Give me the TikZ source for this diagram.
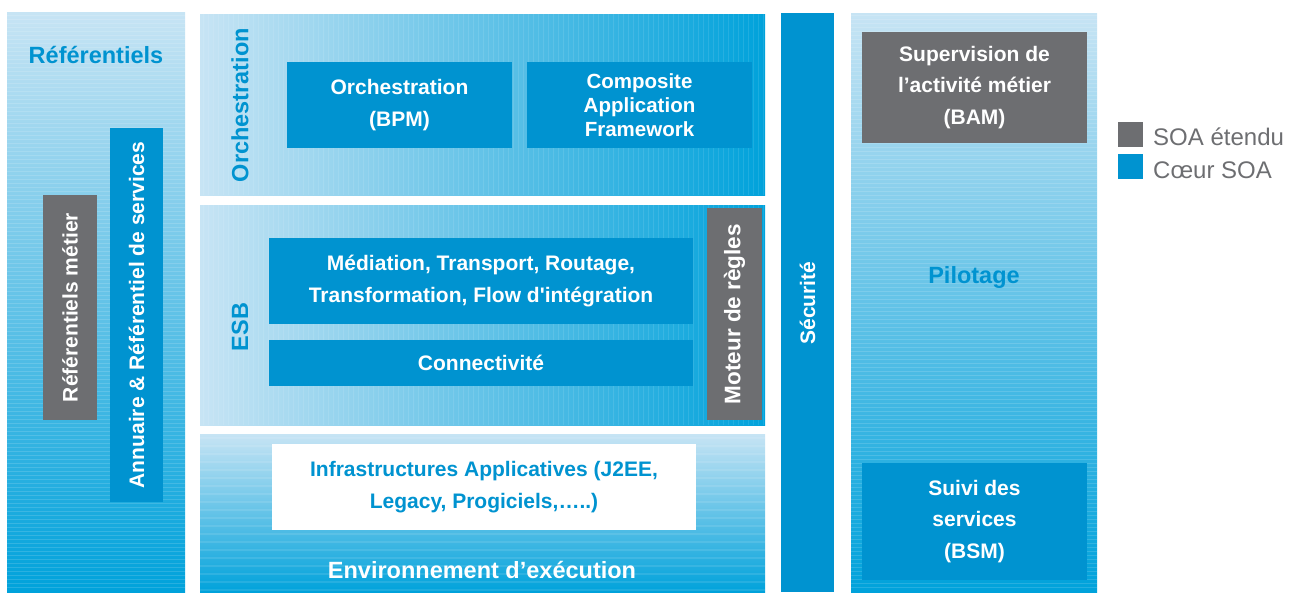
\documentclass[tikz,border=0pt]{standalone}
\usepackage{fontspec}
\setmainfont{Liberation Sans}[Ligatures=TeXOff]
\definecolor{cblue}{RGB}{0,147,208}
\definecolor{cgray}{RGB}{109,110,113}
\definecolor{clight}{RGB}{199,228,244}
\definecolor{cdark}{RGB}{0,162,219}
\begin{document}
\begin{tikzpicture}[x=1pt,y=-1pt,
  box/.style={inner sep=0pt, outer sep=0pt, anchor=north west, align=center, text=white,
    font=\bfseries\fontsize{21}{31.5}\selectfont},
  bluebox/.style={box, fill=cblue},
  graybox/.style={box, fill=cgray},
  vbox/.style={box, anchor=center, rotate=90},
  title/.style={text=cblue, inner sep=0pt, font=\bfseries\fontsize{23.5}{28}\selectfont},
  hstripe/.style={white, opacity=0.14, line width=0.5pt},
  vstripe/.style={white, opacity=0.10, line width=0.8pt},
  legendtext/.style={text=cgray, inner sep=0pt, anchor=west, font=\fontsize{24}{28}\selectfont}
]
\useasboundingbox (0,0) rectangle (1296,592);

% background panels
\shade[top color=clight, bottom color=cdark] (7,12) rectangle (185,592);
\foreach \y in {15,19,...,590} \draw[hstripe] (7,\y) -- (185,\y);
\shade[left color=clight, right color=cdark] (200,14) rectangle (765,195);
\foreach \x in {203,208,...,763} \draw[vstripe] (\x,14) -- (\x,195);
\shade[left color=clight, right color=cdark] (200,205) rectangle (765,425);
\foreach \x in {203,208,...,763} \draw[vstripe] (\x,205) -- (\x,425);
\shade[top color=clight, bottom color=cdark] (200,434) rectangle (765,592);
\foreach \y in {438,446,...,590} \draw[hstripe, line width=2.5pt, opacity=0.1] (200,\y) -- (765,\y);
\fill[cblue] (781,13) rectangle (834,592);
\shade[top color=clight, bottom color=cdark] (851,13) rectangle (1097,592);
\foreach \y in {15,19,...,590} \draw[hstripe] (851,\y) -- (1097,\y);

% titles
\node[title] (tref) at (96,55) {Référentiels};
\node[title] (tpil) at (974,277) {Pilotage};
\node[title, rotate=90] (torch) at (240,105) {Orchestration};
\node[title, rotate=90] (tesb) at (240,327) {ESB};
\node[title, text=white] (tenv) at (482,570) {Environnement d’exécution};
\node[title, text=white, rotate=90, font=\bfseries\fontsize{21}{25}\selectfont] (tsec) at (807.5,303) {Sécurité};

% left boxes
\node[vbox, fill=cgray, minimum width=225pt, minimum height=54pt] (refm) at (70,307.5) {Référentiels métier};
\node[vbox, fill=cblue, minimum width=374pt, minimum height=53pt] (annu) at (136.5,315) {Annuaire \& Référentiel de services};

% orchestration
\node[bluebox, minimum width=225pt, minimum height=86pt] (bpm) at (287,62) {Orchestration\\(BPM)};
\node[bluebox, minimum width=225pt, minimum height=86pt, font=\bfseries\fontsize{20.5}{24}\selectfont] (caf) at (527,62) {Composite\\Application\\Framework};

% ESB
\node[bluebox, minimum width=424pt, minimum height=86pt] (med) at (269,238) {Médiation, Transport, Routage,\\Transformation, Flow d'intégration};
\node[bluebox, minimum width=424pt, minimum height=46pt] (conn) at (269,340) {Connectivité};
\node[vbox, fill=cgray, minimum width=212pt, minimum height=55pt, font=\bfseries\fontsize{22.5}{26}\selectfont] (mot) at (734.5,314) {Moteur de règles};

% environment
\node[box, fill=white, text=cblue, minimum width=424pt, minimum height=86pt] (infra) at (272,444) {Infrastructures Applicatives (J2EE,\\Legacy, Progiciels,…..)};

% pilotage
\node[graybox, minimum width=225pt, minimum height=111pt] (bam) at (862,32) {Supervision de\\l’activité métier\\(BAM)};
\node[bluebox, minimum width=225pt, minimum height=117pt] (bsm) at (862,463) {Suivi des\\services\\(BSM)};

% legend
\node[fill=cgray, inner sep=0pt, outer sep=0pt, minimum size=25pt, anchor=north west] (lg1) at (1118,122) {};
\node[fill=cblue, inner sep=0pt, outer sep=0pt, minimum size=25pt, anchor=north west] (lg2) at (1118,154) {};
\node[legendtext] (lt1) at (1153,137) {SOA étendu};
\node[legendtext] (lt2) at (1153,170) {Cœur SOA};
\end{tikzpicture}
\end{document}
